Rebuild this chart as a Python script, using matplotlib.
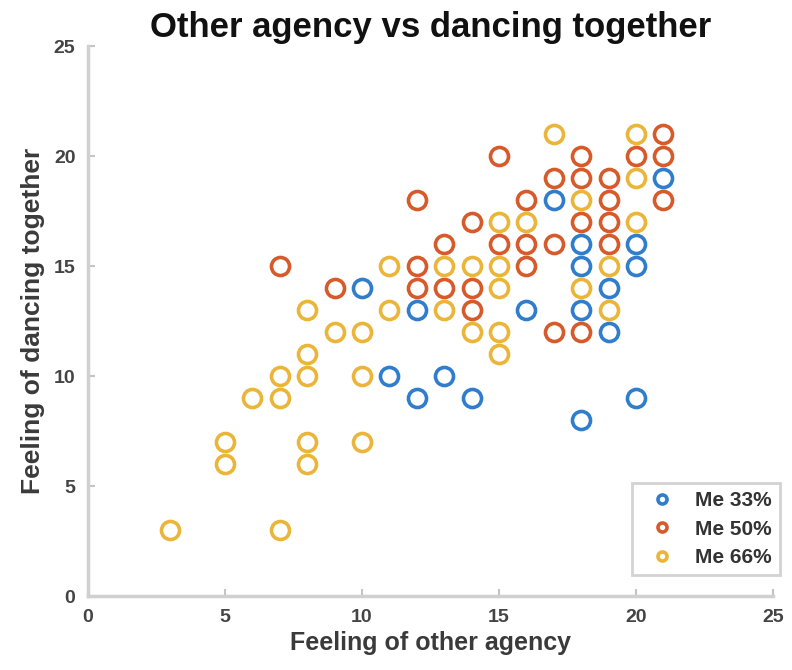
import matplotlib
matplotlib.use('Agg')
import matplotlib.pyplot as plt

plt.rcParams['font.family'] = ['Liberation Sans', 'DejaVu Sans']

# Agency vs dancing-together ratings, one list pair per condition
me33_agency = [10, 12, 11, 13, 12, 14, 16, 17, 18, 18, 18, 18, 19, 19, 20, 20, 20, 21]
me33_dancing = [14, 13, 10, 10, 9, 9, 13, 18, 16, 15, 13, 8, 14, 12, 16, 15, 9, 19]

me50_agency = [7, 9, 12, 12, 12, 13, 13, 14, 14, 14, 15, 15, 16, 16, 16, 17, 17, 17,
               18, 18, 18, 18, 19, 19, 19, 19, 20, 21, 21, 21]
me50_dancing = [15, 14, 18, 15, 14, 16, 14, 17, 14, 13, 20, 16, 18, 16, 15, 19, 16, 12,
                20, 19, 17, 12, 19, 18, 17, 16, 20, 21, 20, 18]

me66_agency = [3, 7, 5, 5, 6, 7, 7, 8, 8, 8, 8, 8, 9, 10, 10, 10, 11, 11, 13, 13, 14, 14,
               15, 15, 15, 15, 15, 16, 17, 18, 18, 19, 19, 20, 20, 20]
me66_dancing = [3, 3, 7, 6, 9, 10, 9, 13, 11, 10, 7, 6, 12, 12, 10, 7, 15, 13, 15, 13, 15, 12,
                17, 15, 14, 12, 11, 17, 21, 18, 14, 15, 13, 21, 19, 17]

series = [
    ('Me 33%', me33_agency, me33_dancing, '#2f7dcc'),
    ('Me 50%', me50_agency, me50_dancing, '#d65a2a'),
    ('Me 66%', me66_agency, me66_dancing, '#ebb53a'),
]

fig = plt.figure(figsize=(7.92, 6.70), dpi=100)
ax = fig.add_axes([0.111, 0.110, 0.865, 0.821])

for label, xs, ys, color in series:
    ax.plot(xs, ys, linestyle='none', marker='o', markersize=13,
            markerfacecolor='none', markeredgecolor=color, markeredgewidth=2.6,
            label=label)

ax.set_xlim(0, 25)
ax.set_ylim(0, 25)
ax.set_xticks(range(0, 26, 5))
ax.set_yticks(range(0, 26, 5))

for side in ('top', 'right'):
    ax.spines[side].set_visible(False)
for side in ('left', 'bottom'):
    ax.spines[side].set_color('#d0d0d0')
    ax.spines[side].set_linewidth(2.5)

ax.tick_params(direction='in', length=5, width=1.5, color='#c4c4c4',
               labelsize=14, labelcolor='#444444', pad=9)
for lbl in ax.get_xticklabels() + ax.get_yticklabels():
    lbl.set_fontweight('bold')

ax.set_title('Other agency vs dancing together', fontsize=25, fontweight='bold',
             color='#111111', pad=7)
ax.set_xlabel('Feeling of other agency', fontsize=18, fontweight='bold',
              color='#3a3a3a', labelpad=4)
ax.set_ylabel('Feeling of dancing together', fontsize=19, fontweight='bold',
              color='#3a3a3a', labelpad=6)

leg = ax.legend(loc='lower right', fontsize=15, markerscale=0.5, frameon=True,
                fancybox=False, edgecolor='#c8c8c8', handletextpad=0.6,
                borderpad=0.4, labelspacing=0.45, handlelength=2.0,
                borderaxespad=0, bbox_to_anchor=(1.01, 0.038))
leg.get_frame().set_linewidth(2)
for t in leg.get_texts():
    t.set_fontweight('bold')
    t.set_color('#333333')

fig.savefig('out.png', dpi=100)
